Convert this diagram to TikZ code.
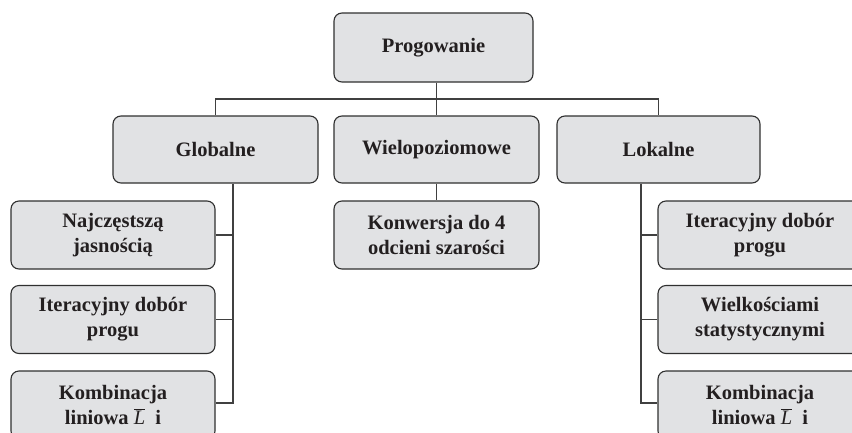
\documentclass[tikz,border=0pt]{standalone}
\usepackage{fontspec}
\setmainfont{Liberation Serif}
\definecolor{boxfill}{HTML}{E1E2E4}
\definecolor{boxline}{HTML}{303030}
\definecolor{wire}{HTML}{404040}
\definecolor{ink}{HTML}{231F20}
\begin{document}
\begin{tikzpicture}[x=1pt,y=-1pt,
  box/.style={draw=boxline,line width=1.1pt,fill=boxfill,rounded corners=8pt,
    minimum width=204pt,minimum height=68pt,align=center,inner sep=2pt,
    text=ink,font=\fontsize{20.5}{25}\selectfont\bfseries},
  wire/.style={draw=wire,line width=1.1pt}]
\useasboundingbox (0,0) rectangle (852,432);
\clip (0,0) rectangle (852,432);
\fill[white] (0,0) rectangle (852,432);
% level 1
\node[box,minimum width=199pt,minimum height=69pt] (top) at (433.5,47.5) {Progowanie};
% level 2
\node[box,minimum width=205pt,minimum height=67pt] (glob) at (215.5,149.5) {Globalne};
\node[box,minimum width=205pt,minimum height=67pt] (wiel) at (436.5,149.5) {Wielopoziomowe};
\node[box,minimum width=203pt,minimum height=67pt] (lok) at (658.5,149.5) {Lokalne};
% level 3 left
\node[box] (g1) at (113,235) {Najczęstszą\\jasnością};
\node[box] (g2) at (113,319.5) {Iteracyjny dobór\\progu};
\node[box] (g3) at (113,405) {Kombinacja\\liniowa~$\overline{\mbox{\normalfont\itshape L}}$~~i};
% level 3 middle
\node[box,minimum width=205pt] (w1) at (436.5,235) {Konwersja do 4\\odcieni szarości};
% level 3 right
\node[box] (l1) at (760,235) {Iteracyjny dobór\\progu};
\node[box] (l2) at (760,319.5) {Wielkościami\\statystycznymi};
\node[box] (l3) at (760,405) {Kombinacja\\liniowa~$\overline{\mbox{\normalfont\itshape L}}$~~i};
% spines
\coordinate (gs) at (233,403);
\coordinate (ls) at (641,403);
% connectors
\draw[wire] (top.south -| wiel.north) -- (wiel.north);
\draw[wire] (glob.north) -- ++(0,-16.5) -| (lok.north);
\draw[wire] (wiel.south) -- (w1.north);
\draw[wire] (glob.south -| gs) -- (gs) -- (gs -| g3.east);
\draw[wire] (g1.east) -- (g1.east -| gs);
\draw[wire] (g2.east) -- (g2.east -| gs);
\draw[wire] (lok.south -| ls) -- (ls) -- (ls -| l3.west);
\draw[wire] (l1.west) -- (l1.west -| ls);
\draw[wire] (l2.west) -- (l2.west -| ls);
\end{tikzpicture}
\end{document}
